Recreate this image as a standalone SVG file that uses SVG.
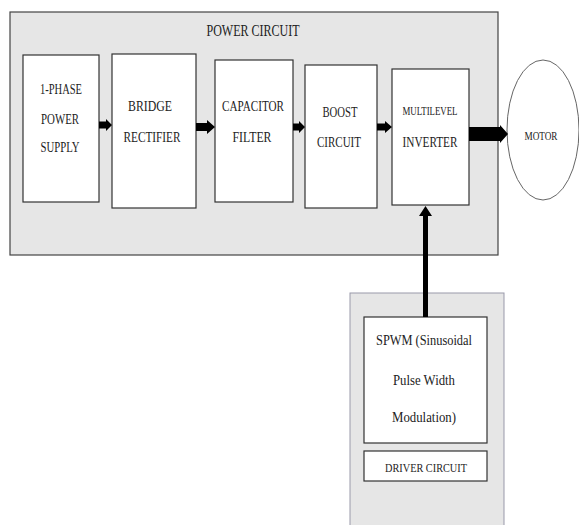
<svg xmlns="http://www.w3.org/2000/svg" width="579" height="525" viewBox="0 0 579 525">
<style>
.blk{fill:#fff;stroke:#333;stroke-width:1.2}
.t{font-family:"Liberation Serif",serif;fill:#222;text-anchor:middle}
.s{font-size:14px}
.arr{fill:#000}
</style>
<rect width="579" height="525" fill="#fff"/>
<g id="power-circuit">
<rect x="10" y="12" width="488" height="243" fill="#e6e6e6" stroke="#444" stroke-width="1.2"/>
<text class="t" x="253" y="36" font-size="16" textLength="93" lengthAdjust="spacingAndGlyphs">POWER CIRCUIT</text>
</g>
<g id="supply">
<rect class="blk" x="23" y="55" width="76" height="147"/>
<text class="t s" x="61" y="94" textLength="42" lengthAdjust="spacingAndGlyphs">1-PHASE</text>
<text class="t s" x="60" y="124" textLength="38" lengthAdjust="spacingAndGlyphs">POWER</text>
<text class="t s" x="60" y="152" textLength="39" lengthAdjust="spacingAndGlyphs">SUPPLY</text>
</g>
<g id="rectifier">
<rect class="blk" x="112" y="54" width="84" height="154"/>
<text class="t s" x="150" y="111" textLength="44" lengthAdjust="spacingAndGlyphs">BRIDGE</text>
<text class="t s" x="152" y="142" textLength="57" lengthAdjust="spacingAndGlyphs">RECTIFIER</text>
</g>
<g id="filter">
<rect class="blk" x="215" y="60" width="78" height="142"/>
<text class="t s" x="253" y="111" textLength="62" lengthAdjust="spacingAndGlyphs">CAPACITOR</text>
<text class="t s" x="252" y="142" textLength="39" lengthAdjust="spacingAndGlyphs">FILTER</text>
</g>
<g id="boost">
<rect class="blk" x="305" y="65" width="72" height="143"/>
<text class="t s" x="340" y="117" textLength="35" lengthAdjust="spacingAndGlyphs">BOOST</text>
<text class="t s" x="339" y="147" textLength="44" lengthAdjust="spacingAndGlyphs">CIRCUIT</text>
</g>
<g id="inverter">
<rect class="blk" x="392" y="69" width="77" height="136"/>
<text class="t" x="430" y="115" font-size="12" textLength="55" lengthAdjust="spacingAndGlyphs">MULTILEVEL</text>
<text class="t s" x="430" y="147" textLength="55" lengthAdjust="spacingAndGlyphs">INVERTER</text>
</g>
<g id="motor">
<ellipse cx="543" cy="130" rx="36" ry="70" fill="#fff" stroke="#666" stroke-width="1"/>
<text class="t" x="541" y="140" font-size="12" textLength="33" lengthAdjust="spacingAndGlyphs">MOTOR</text>
</g>
<g id="driver-area">
<rect x="350" y="293" width="154" height="240" fill="#e6e6e6" stroke="#99a" stroke-width="1"/>
</g>
<g id="spwm">
<rect class="blk" x="364" y="317" width="123" height="126"/>
<text class="t s" x="424" y="345" textLength="96" lengthAdjust="spacingAndGlyphs">SPWM (Sinusoidal</text>
<text class="t s" x="424" y="385" textLength="62" lengthAdjust="spacingAndGlyphs">Pulse Width</text>
<text class="t s" x="424" y="422" textLength="64" lengthAdjust="spacingAndGlyphs">Modulation)</text>
</g>
<g id="driver">
<rect class="blk" x="364" y="451" width="123" height="30"/>
<text class="t" x="426" y="472" font-size="12" textLength="82" lengthAdjust="spacingAndGlyphs">DRIVER CIRCUIT</text>
</g>
<g id="connectors">
<polygon class="arr" points="99,121.5 106,121.5 106,119 112,125 106,131 106,128.5 99,128.5"/>
<polygon class="arr" points="196,123 207,123 207,120 215,127 207,134 207,131 196,131"/>
<polygon class="arr" points="293,123.5 299,123.5 299,121 305,127 299,133 299,130.5 293,130.5"/>
<polygon class="arr" points="377,123.5 385,123.5 385,121 392,127 385,133 385,130.5 377,130.5"/>
<polygon class="arr" points="469,127 500,127 500,125 508,134 500,143 500,141 469,141"/>
<polygon class="arr" points="423,317 423,216 419,216 425.5,206 432,216 428,216 428,317"/>
</g>
</svg>
